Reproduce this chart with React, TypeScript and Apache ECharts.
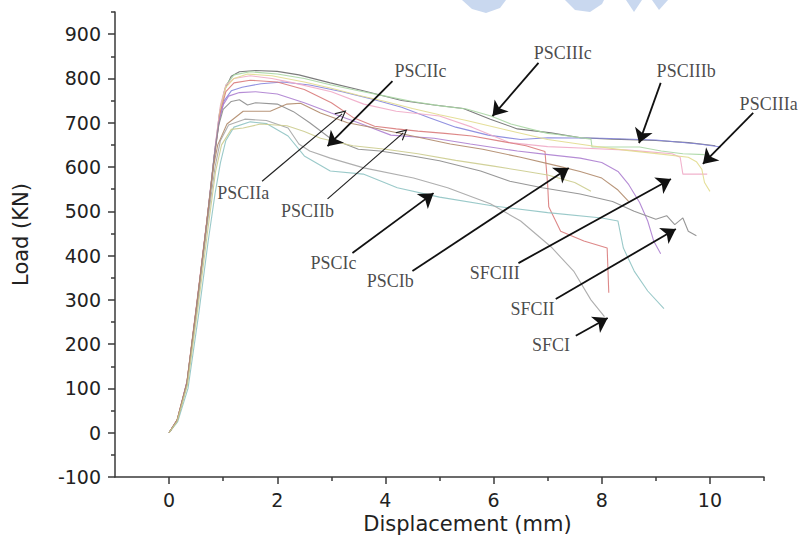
import React, { useEffect, useRef } from 'react';
import * as echarts from 'echarts';

// ---- axis ticks ----
const xTickValues = [0, 2, 4, 6, 8, 10];
const xMinorTickValues = [1, 3, 5, 7, 9, 11];
const yTickValues = [-100, 0, 100, 200, 300, 400, 500, 600, 700, 800, 900];
const yMinorTickValues = [-50, 50, 150, 250, 350, 450, 550, 650, 750, 850, 950];

// ---- load–displacement curves [displacement mm, load kN] ----
const curveDarkGray = [[0,0],[0.15,28],[0.33,112],[0.52,295],[0.7,478],[0.84,630],[0.93,720],[1.03,775],[1.15,805],[1.3,815],[1.6,818],[2.0,816],[2.4,808],[2.98,790],[3.59,772],[4.3,750],[4.9,740],[5.44,732],[5.94,708],[6.44,686],[7.06,677],[7.61,666],[8.2,663],[9.0,660],[9.6,655],[10.1,648]];
const curveBlue = [[0,0],[0.16,30],[0.34,118],[0.53,300],[0.71,485],[0.85,640],[0.93,710],[1.02,750],[1.15,772],[1.35,780],[1.7,788],[2.1,792],[2.6,785],[3.2,770],[3.8,752],[4.3,735],[4.8,712],[5.3,690],[5.9,672],[6.5,662],[7.0,666],[8.0,665],[9.0,661],[9.8,652],[10.2,645]];
const curveGreen = [[0,0],[0.15,27],[0.33,110],[0.52,290],[0.7,475],[0.85,640],[0.95,735],[1.05,785],[1.2,808],[1.5,815],[2.0,810],[2.5,800],[3.0,785],[3.5,772],[4.0,760],[4.5,748],[5.02,738],[5.5,731],[5.95,715],[6.32,697],[7.0,676],[7.15,674],[7.8,663],[7.82,645],[8.7,645],[9.1,636],[9.5,630],[9.9,628]];
const curvePink = [[0,0],[0.15,30],[0.33,116],[0.52,302],[0.7,482],[0.85,645],[0.95,740],[1.05,785],[1.2,800],[1.5,806],[1.9,800],[2.3,790],[3.0,770],[3.6,742],[4.2,726],[5.0,715],[5.6,690],[6.3,655],[7.0,646],[7.6,643],[8.5,638],[9.3,630],[9.45,622],[9.5,584],[9.95,584]];
const curveYellow = [[0,0],[0.14,26],[0.32,105],[0.51,285],[0.69,465],[0.84,625],[0.95,730],[1.05,780],[1.2,800],[1.45,810],[1.9,806],[2.5,792],[3.0,778],[3.5,762],[4.0,748],[4.5,732],[5.0,718],[5.5,705],[6.3,682],[7.0,662],[7.8,648],[8.5,637],[9.1,629],[9.6,622],[9.75,612],[9.85,595],[9.9,565],[10.0,545]];
const curveRed = [[0,0],[0.15,29],[0.33,113],[0.52,298],[0.7,480],[0.85,635],[0.95,725],[1.05,770],[1.2,790],[1.5,796],[2.0,792],[2.5,775],[3.0,745],[3.4,712],[3.8,692],[4.2,686],[4.6,681],[5.1,676],[5.6,670],[6.1,659],[6.6,648],[6.95,635],[7.0,560],[7.02,510],[7.24,455],[7.67,433],[8.1,417],[8.13,316]];
const curvePurple = [[0,0],[0.16,31],[0.34,120],[0.53,305],[0.71,488],[0.85,640],[0.92,700],[1.0,740],[1.1,760],[1.3,768],[1.6,770],[2.0,765],[2.5,745],[3.0,722],[3.5,700],[4.1,672],[4.9,665],[5.57,652],[6.44,636],[6.93,629],[7.6,620],[8.0,610],[8.3,590],[8.5,560],[8.7,520],[8.85,478],[8.96,433],[9.09,404]];
const curveGray = [[0,0],[0.15,28],[0.33,112],[0.52,296],[0.7,478],[0.83,620],[0.92,695],[1.0,730],[1.15,748],[1.3,752],[1.45,740],[1.6,745],[2.0,742],[2.3,725],[2.6,700],[2.98,665],[3.5,640],[3.9,636],[4.5,625],[5.0,614],[5.76,591],[6.3,568],[6.9,553],[7.6,539],[8.2,522],[8.6,500],[9.0,482],[9.2,490],[9.35,470],[9.5,485],[9.6,455],[9.75,445]];
const curveTeal = [[0,0],[0.16,25],[0.35,100],[0.55,270],[0.72,430],[0.85,540],[0.95,610],[1.05,660],[1.2,690],[1.5,702],[1.8,698],[2.2,670],[2.5,625],[2.98,591],[3.59,584],[4.22,553],[5.0,532],[6.0,512],[7.0,497],[8.0,485],[8.3,478],[8.4,417],[8.6,365],[8.85,320],[9.15,280]];
const curveLightGray = [[0,0],[0.15,27],[0.33,108],[0.52,285],[0.7,465],[0.85,600],[0.95,660],[1.1,695],[1.4,708],[1.8,705],[2.2,688],[2.4,652],[2.6,636],[2.98,620],[3.6,598],[4.52,575],[5.15,553],[5.94,517],[6.5,478],[7.06,420],[7.48,365],[7.8,300],[8.05,262]];
const curveBrown = [[0,0],[0.15,29],[0.33,114],[0.52,297],[0.7,478],[0.82,600],[0.9,650],[1.07,697],[1.37,726],[1.87,726],[2.18,742],[2.43,744],[2.8,722],[3.3,700],[3.8,688],[4.5,670],[5.2,652],[5.8,640],[6.5,622],[7.2,602],[7.6,590],[8.0,575],[8.3,548],[8.5,522]];
const curveOlive = [[0,0],[0.15,26],[0.34,108],[0.54,288],[0.72,462],[0.86,590],[0.97,650],[1.15,685],[1.37,688],[1.69,697],[2.18,693],[2.5,680],[2.8,665],[3.4,648],[4.0,640],[4.6,630],[5.3,615],[6.0,602],[6.5,592],[7.0,582],[7.5,565],[7.8,545]];

const curves = [
  { name: 'PSCIIIc', data: curveDarkGray, color: '#6e6e6e' },
  { name: 'PSCIIIb', data: curveBlue, color: '#8585dd' },
  { name: 'PSCIIc', data: curveGreen, color: '#a9d6a3' },
  { name: 'PSCIIIa', data: curvePink, color: '#f0aac6' },
  { name: 'PSCIIb', data: curveYellow, color: '#e2dc8e' },
  { name: 'SFCIII', data: curveRed, color: '#d97b7b' },
  { name: 'SFCII', data: curvePurple, color: '#ad7fd0' },
  { name: 'PSCIIa', data: curveGray, color: '#8c8c8c' },
  { name: 'PSCIb', data: curveTeal, color: '#8fc3c3' },
  { name: 'SFCI', data: curveLightGray, color: '#a5a5a5' },
  { name: 'PSCIc', data: curveBrown, color: '#b08a6a' },
  { name: 'PSCIa', data: curveOlive, color: '#cccc8e' },
];

// ---- annotations (data coordinates) ----
const annotationNames = ['PSCIIa', 'PSCIIb', 'PSCIIc', 'PSCIIIc', 'PSCIIIb', 'PSCIc', 'PSCIb', 'SFCIII', 'SFCII', 'SFCI'];
const annotationLabelAt = [[1.37,541],[2.56,501],[4.65,817],[7.28,857],[9.56,817],[3.04,383],[4.09,343],[6.02,361],[6.72,280],[7.06,199]];
const arrowFrom = [[1.72,568],[2.93,528],[4.13,794],[6.83,835],[9.09,790],[3.39,406],[4.50,365],[6.46,383],[7.15,302],[7.52,219]];
const arrowTo = [[3.20,720],[4.33,677],[2.93,647],[5.98,715],[8.69,654],[4.89,541],[7.39,598],[9.28,573],[9.37,460],[8.11,259]];
const arrowOpen = [true, true, false, false, false, false, false, false, false, false];
// clipped label at right edge
const edgeLabelName = 'PSCIIIa';
const edgeLabelAt = [10.54, 742];
const edgeArrowFrom = [10.80, 722];
const edgeArrowTo = [9.87, 607];

const openArrowPath = 'path://M0,10 L5,0 L10,10 L8.8,10 L5,2.4 L1.2,10 Z';

export default function App() {
  const ref = useRef<HTMLDivElement>(null);
  useEffect(() => {
    if (!ref.current) return;
    const chart = echarts.init(ref.current, undefined, { renderer: 'svg' });
    const axisColor = '#3a3a3a';
    const sans = "'DejaVu Sans', 'Liberation Sans', Arial, sans-serif";
    const serif = "'Liberation Serif', 'Times New Roman', serif";

    const lineSeries = curves.map((c) => ({
      name: c.name,
      type: 'line',
      data: c.data,
      showSymbol: false,
      symbol: 'none',
      lineStyle: { color: c.color, width: 1.1, opacity: 0.9 },
      z: 2,
      silent: true,
    }));

    const filledArrows: any[] = [];
    const openArrows: any[] = [];
    annotationNames.forEach((_, i) => {
      const item = { coords: [arrowFrom[i], arrowTo[i]] };
      if (arrowOpen[i]) openArrows.push(item);
      else filledArrows.push(item);
    });
    filledArrows.push({ coords: [edgeArrowFrom, edgeArrowTo] });

    const labelData = annotationNames.map((n, i) => ({ name: n, value: annotationLabelAt[i] }));

    chart.setOption({
      animation: false,
      backgroundColor: '#ffffff',
      grid: { left: 115, right: 44, top: 12, bottom: 64 },
      xAxis: [
        {
          type: 'value',
          min: -1,
          max: 11,
          name: 'Displacement (mm)',
          nameLocation: 'middle',
          nameGap: 34,
          nameTextStyle: { fontFamily: sans, fontSize: 21, color: '#222', padding: [0, 0, 0, 56] },
          axisLine: { show: true, onZero: false, lineStyle: { color: axisColor, width: 1.5 } },
          axisTick: { show: true, customValues: xTickValues, length: 7, inside: false, lineStyle: { color: axisColor, width: 1.5 } },
          axisLabel: { customValues: xTickValues, margin: 13, fontFamily: sans, fontSize: 19, color: '#222' },
          splitLine: { show: false },
        },
        {
          type: 'value',
          min: -1,
          max: 11,
          position: 'bottom',
          axisLine: { show: false, onZero: false },
          axisTick: { show: true, customValues: xMinorTickValues, length: 4, lineStyle: { color: axisColor, width: 1.5 } },
          axisLabel: { show: false },
          splitLine: { show: false },
        },
      ],
      yAxis: [
        {
          type: 'value',
          min: -100,
          max: 950,
          name: 'Load (KN)',
          nameLocation: 'middle',
          nameGap: 84,
          nameRotate: 90,
          nameTextStyle: { fontFamily: sans, fontSize: 21, color: '#222', padding: [0, 0, 0, 20] },
          axisLine: { show: true, onZero: false, lineStyle: { color: axisColor, width: 1.5 } },
          axisTick: { show: true, customValues: yTickValues, length: 7, lineStyle: { color: axisColor, width: 1.5 } },
          axisLabel: { customValues: yTickValues, margin: 14, fontFamily: sans, fontSize: 19, color: '#222' },
          splitLine: { show: false },
        },
        {
          type: 'value',
          min: -100,
          max: 950,
          position: 'left',
          axisLine: { show: false, onZero: false },
          axisTick: { show: true, customValues: yMinorTickValues, length: 4, lineStyle: { color: axisColor, width: 1.5 } },
          axisLabel: { show: false },
          splitLine: { show: false },
        },
      ],
      graphic: [
        { type: 'polygon', shape: { points: [[462, 0], [472, 9], [486, 13], [500, 8], [506, 0]] }, style: { fill: '#c9d8ef' }, silent: true },
        { type: 'polygon', shape: { points: [[565, 0], [575, 10], [590, 12], [602, 4], [604, 0]] }, style: { fill: '#c9d8ef' }, silent: true },
        { type: 'polygon', shape: { points: [[626, 0], [634, 12], [642, 0]] }, style: { fill: '#c9d8ef' }, silent: true },
        { type: 'polygon', shape: { points: [[652, 0], [659, 10], [668, 0]] }, style: { fill: '#c9d8ef' }, silent: true },
      ],
      series: [
        ...lineSeries,
        {
          type: 'lines',
          coordinateSystem: 'cartesian2d',
          xAxisIndex: 0,
          yAxisIndex: 0,
          data: filledArrows,
          symbol: ['none', 'arrow'],
          symbolSize: [10, 14],
          lineStyle: { color: '#111', width: 1.8, opacity: 1, curveness: 0 },
          z: 5,
          silent: true,
        },
        {
          type: 'lines',
          coordinateSystem: 'cartesian2d',
          xAxisIndex: 0,
          yAxisIndex: 0,
          data: openArrows,
          symbol: ['none', openArrowPath],
          symbolSize: [10, 11],
          lineStyle: { color: '#222', width: 1.2, opacity: 1, curveness: 0 },
          z: 5,
          silent: true,
        },
        {
          type: 'scatter',
          xAxisIndex: 0,
          yAxisIndex: 0,
          data: labelData,
          symbolSize: 1,
          itemStyle: { color: 'rgba(0,0,0,0)' },
          label: {
            show: true,
            position: 'inside',
            formatter: '{b}',
            fontFamily: serif,
            fontSize: 18,
            color: '#1a1a1a',
          },
          z: 6,
          silent: true,
        },
        {
          type: 'scatter',
          xAxisIndex: 0,
          yAxisIndex: 0,
          data: [{ name: edgeLabelName, value: edgeLabelAt }],
          symbolSize: 1,
          itemStyle: { color: 'rgba(0,0,0,0)' },
          label: {
            show: true,
            position: 'right',
            distance: 0,
            formatter: '{b}',
            fontFamily: serif,
            fontSize: 18,
            color: '#1a1a1a',
          },
          z: 6,
          silent: true,
        },
      ],
    });
    return () => chart.dispose();
  }, []);
  return <div ref={ref} style={{ position: 'absolute', left: 0, top: 0, width: 808, height: 541 }} />;
}
